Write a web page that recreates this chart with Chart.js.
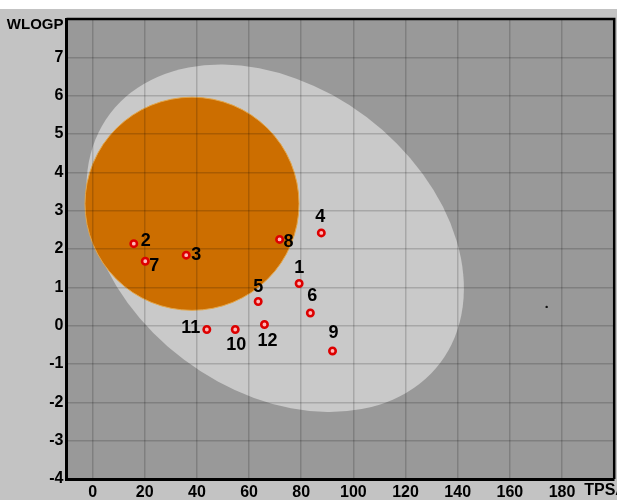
<!DOCTYPE html>
<html>
<head>
<meta charset="utf-8">
<script src="https://cdn.jsdelivr.net/npm/chart.js@4/dist/chart.umd.min.js"></script>
<style>
  html, body { margin: 0; padding: 0; background: #ffffff; overflow: hidden; }
  #wrap { width: 617px; height: 500px; position: relative; overflow: hidden; }
  canvas { display: block; }
</style>
</head>
<body>
<div id="wrap"><canvas id="egg" width="620" height="500"></canvas></div>
<script>
// Molecules plotted in the WLOGP vs TPSA plane
const molecules = ['1', '2', '3', '4', '5', '6', '7', '8', '9', '10', '11', '12'];
const tpsa  = [79.2, 15.8, 35.9, 87.7, 63.5, 83.5, 20.2, 71.7, 92.0, 54.7, 43.8, 65.9];
const wlogp = [1.10, 2.14, 1.84, 2.42, 0.63, 0.33, 1.68, 2.25, -0.66, -0.10, -0.10, 0.03];

// small stray mark on the right-hand side
const strayTpsa  = [174.1];
const strayWlogp = [0.49];

// axis ticks
const xTicks = [0, 20, 40, 60, 80, 100, 120, 140, 160, 180];
const yTicks = [-4, -3, -2, -1, 0, 1, 2, 3, 4, 5, 6, 7];
const xTitle = 'TPSA';
const yTitle = 'WLOGP';

// egg white (absorption region): centre in data units, semi-axes in TPSA units, tilt in degrees
const whiteCentre = [70.0, 2.28];
const whiteAxes = [79.3, 58.2];
const whiteTilt = 37;

// yolk (brain penetration region): centre, half-width (TPSA), half-height (WLOGP)
const yolkCentre = [38.12, 3.18];
const yolkHalf = [41.03, 2.78];

// label offsets in pixels from each marker (label centre)
const labelOffset = [
  [0, -15], [12, -3], [10, 0], [-1, -16], [0, -14], [2, -17],
  [9, 5], [9, 3], [1, -18], [1, 16], [-16, -1], [3, 17]
];

const FONT = '"Liberation Sans", Arial, Helvetica, sans-serif';

const eggPlugin = {
  id: 'eggPlugin',
  beforeDraw(chart) {
    const ctx = chart.ctx;
    const a = chart.chartArea;
    const xs = chart.scales.x, ys = chart.scales.y;
    ctx.save();
    ctx.fillStyle = '#ffffff';
    ctx.fillRect(0, 0, chart.width, chart.height);
    ctx.fillStyle = '#c3c3c3';
    ctx.fillRect(0, 9, chart.width, chart.height - 9);
    ctx.fillStyle = '#999999';
    ctx.fillRect(a.left, a.top, a.right - a.left, a.bottom - a.top);

    ctx.beginPath();
    ctx.rect(a.left, a.top, a.right - a.left, a.bottom - a.top);
    ctx.clip();

    // white
    const wx = xs.getPixelForValue(whiteCentre[0]);
    const wy = ys.getPixelForValue(whiteCentre[1]);
    const pxPerT = xs.getPixelForValue(1) - xs.getPixelForValue(0);
    ctx.beginPath();
    ctx.ellipse(wx, wy, whiteAxes[0] * pxPerT, whiteAxes[1] * pxPerT, whiteTilt * Math.PI / 180, 0, Math.PI * 2);
    ctx.fillStyle = '#c9c9c9';
    ctx.fill();

    // yolk
    const yx = xs.getPixelForValue(yolkCentre[0]);
    const yy = ys.getPixelForValue(yolkCentre[1]);
    const rx = xs.getPixelForValue(yolkCentre[0] + yolkHalf[0]) - yx;
    const ry = yy - ys.getPixelForValue(yolkCentre[1] + yolkHalf[1]);
    ctx.beginPath();
    ctx.ellipse(yx, yy, rx, ry, 0, 0, Math.PI * 2);
    ctx.fillStyle = '#cc6e00';
    ctx.fill();
    ctx.lineWidth = 1;
    ctx.strokeStyle = '#e3a64a';
    ctx.stroke();
    ctx.restore();
  },
  afterDatasetsDraw(chart) {
    const ctx = chart.ctx;
    const meta = chart.getDatasetMeta(0);
    ctx.save();
    ctx.font = 'bold 18px ' + FONT;
    ctx.fillStyle = '#000000';
    ctx.textAlign = 'center';
    ctx.textBaseline = 'middle';
    meta.data.forEach((pt, i) => {
      const off = labelOffset[i];
      ctx.fillText(molecules[i], pt.x + off[0], pt.y + off[1]);
    });
    ctx.restore();
  },
  afterDraw(chart) {
    const ctx = chart.ctx;
    const a = chart.chartArea;
    const xs = chart.scales.x, ys = chart.scales.y;
    ctx.save();
    ctx.strokeStyle = '#000000';
    ctx.lineWidth = 2.5;
    ctx.beginPath();
    ctx.moveTo(a.left, a.top);
    ctx.lineTo(a.right, a.top);
    ctx.lineTo(a.right, a.bottom);
    ctx.stroke();

    ctx.fillStyle = '#000000';
    ctx.textBaseline = 'middle';
    ctx.font = 'bold 15px ' + FONT;
    ctx.textAlign = 'right';
    ctx.fillText(yTitle, a.left - 3, ys.getPixelForValue(8) + 6);
    ctx.font = 'bold 16px ' + FONT;
    ctx.textAlign = 'left';
    ctx.fillText(xTitle, xs.getPixelForValue(200) - 30, 491);
    ctx.restore();
  }
};

new Chart(document.getElementById('egg'), {
  type: 'scatter',
  data: {
    datasets: [
      {
        data: tpsa.map((t, i) => ({ x: t, y: wlogp[i] })),
        pointRadius: 3.2,
        pointBorderWidth: 2.6,
        pointBorderColor: '#dd0000',
        pointBackgroundColor: '#ffb8b8',
        pointHoverRadius: 3.2
      },
      {
        data: strayTpsa.map((t, i) => ({ x: t, y: strayWlogp[i] })),
        pointRadius: 1.2,
        pointBorderWidth: 0,
        pointBackgroundColor: '#111111'
      }
    ]
  },
  plugins: [eggPlugin],
  options: {
    responsive: false,
    animation: false,
    devicePixelRatio: 1,
    layout: { padding: { top: 19, right: 2, left: 0, bottom: 0 } },
    plugins: { legend: { display: false }, tooltip: { enabled: false } },
    scales: {
      x: {
        type: 'linear',
        min: -10,
        max: 200,
        afterBuildTicks(scale) { scale.ticks = xTicks.map(v => ({ value: v })); },
        afterFit(scale) {
          scale.height = 21;
          scale.paddingLeft = 0;
          scale.paddingRight = 0;
        },
        grid: { color: 'rgba(0,0,0,0.17)', lineWidth: 1.5, drawTicks: false },
        border: { display: true, color: '#000000', width: 3 },
        ticks: {
          padding: 4,
          color: '#000000',
          maxRotation: 0,
          font: { family: FONT, size: 16, weight: 'bold' }
        }
      },
      y: {
        type: 'linear',
        min: -4,
        max: 8,
        afterBuildTicks(scale) { scale.ticks = yTicks.map(v => ({ value: v })); },
        afterFit(scale) {
          scale.width = 66.5;
          scale.paddingTop = 0;
          scale.paddingBottom = 0;
        },
        grid: { color: 'rgba(0,0,0,0.17)', lineWidth: 1.5, drawTicks: false },
        border: { display: true, color: '#000000', width: 3 },
        ticks: {
          padding: 3,
          color: '#000000',
          font: { family: FONT, size: 16, weight: 'bold' }
        }
      }
    }
  }
});
</script>
</body>
</html>
